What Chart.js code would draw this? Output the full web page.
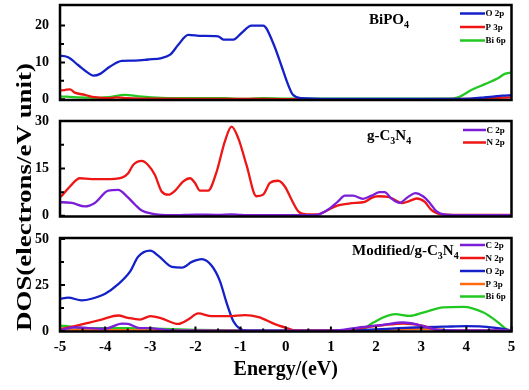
<!DOCTYPE html>
<html><head><meta charset="utf-8">
<script src="https://cdn.jsdelivr.net/npm/chart.js@4.4.0/dist/chart.umd.min.js"></script>
<style>
html,body{margin:0;padding:0;background:#fff;}
#wrap{position:relative;width:529px;height:390px;background:#fff;overflow:hidden;}
#wrap canvas{position:absolute;left:0;top:0;}
</style></head><body>
<div id="wrap">
<canvas id="c1" width="529" height="390"></canvas>
<canvas id="c2" width="529" height="390"></canvas>
<canvas id="c3" width="529" height="390"></canvas>
</div>
<script>
// ---------- DATA ----------
const energyTicks = [-5,-4,-3,-2,-1,0,1,2,3,4,5];

// Panel 1: BiPO4
const bipoO2pE = [-5,-4.96,-4.82,-4.6,-4.37,-4.26,-4.11,-3.89,-3.63,-3.34,-3.05,-2.75,-2.56,-2.38,-2.16,-1.86,-1.5,-1.38,-1.16,-0.98,-0.76,-0.5,-0.28,-0.09,0.02,0.16,0.35,1,2,3,4.1,4.4,4.63,4.8,5];
const bipoO2p  = [11.8,11.8,11.4,9.3,7.1,6.4,6.9,8.9,10.4,10.5,10.8,11.2,12.1,14.8,17.5,17.2,17.1,16.2,16.2,18.0,20.0,20.0,15.3,8.9,5.0,1.2,0.3,0.1,0.1,0.1,0.2,0.5,0.8,1.0,1.1];
const bipoP3pE = [-5,-4.9,-4.78,-4.67,-4.45,-4.23,-3.93,-3.75,-3.49,-3.0,-2.0,-1.0,0,1,2,3,4,4.5,5];
const bipoP3p  = [2.4,2.5,2.7,1.8,1.2,0.55,0.3,0.5,0.3,0.15,0.1,0.1,0.05,0.05,0.05,0.05,0.1,0.3,0.5];
const bipoBi6pE = [-5,-4.6,-4.2,-3.93,-3.56,-3.25,-2.75,-2,-1.33,-1.0,-0.5,0,1,2,3,3.67,3.82,4.11,4.41,4.7,4.85,5];
const bipoBi6p  = [0.8,0.5,0.4,0.6,1.2,0.8,0.4,0.3,0.3,0.1,0.3,0.2,0.2,0.2,0.2,0.2,0.5,2.5,4.1,5.7,6.9,7.3];
const bipoTicks = [0,10,20];
const bipoMinor = [5,15];

// Panel 2: g-C3N4
const gcnC2pE = [-5,-4.96,-4.74,-4.45,-4.23,-3.93,-3.71,-3.52,-3.34,-3.19,-2.97,-2.5,-2,-1.5,-1.2,-1,-0.5,0,0.5,0.72,0.94,1.16,1.31,1.49,1.71,1.9,2.08,2.19,2.34,2.52,2.71,2.87,3.04,3.19,3.34,3.53,4,5];
const gcnC2p  = [4.3,4.3,4.1,3.0,4.1,8.0,8.2,6.2,3.6,1.7,0.7,0.2,0.4,0.3,0.5,0.3,0.2,0.2,0.2,0.4,2.0,4.6,6.4,6.4,5.4,6.4,7.5,7.5,5.5,4.1,6.0,7.2,6.2,4.1,1.4,0.4,0.2,0.2];
const gcnN2pE = [-5,-4.96,-4.78,-4.56,-4.3,-4.0,-3.63,-3.49,-3.38,-3.19,-3.05,-2.9,-2.75,-2.6,-2.45,-2.27,-2.12,-2.01,-1.9,-1.72,-1.53,-1.35,-1.2,-1.05,-0.87,-0.65,-0.5,-0.35,-0.17,-0.02,0.13,0.28,0.46,0.72,0.87,1.16,1.46,1.75,1.9,2.05,2.27,2.42,2.57,2.72,2.9,3.08,3.23,3.45,4,5];
const gcnN2p  = [6.0,6.4,9.3,11.9,11.6,11.6,12.1,13.5,16.1,17.4,16.1,13.0,7.7,6.7,8.0,10.9,11.9,10.4,8.0,8.0,14.0,23.5,28.2,24.5,16.1,6.2,6.7,10.4,11.1,9.3,5.1,1.4,0.5,0.5,1.4,3.3,4.0,4.4,5.7,6.2,6.0,5.0,4.0,4.6,5.5,4.4,1.8,0.5,0.3,0.3];
const gcnTicks = [0,15,30];
const gcnMinor = [7.5,22.5];

// Panel 3: Modified/g-C3N4
const modC2pE = [-5,-4.67,-4.37,-4.0,-3.63,-3.49,-3.23,-3.0,-2.75,-2.4,-1,0,1.0,1.2,1.6,2.15,2.6,2.9,3.3,3.65,4,5];
const modC2p  = [0.3,2.0,1.5,1.2,4.0,3.8,1.5,1.5,0.8,0.3,0.2,0.2,0.2,0.4,1.8,3.3,4.6,3.6,0.9,0.4,0.3,0.3];
const modN2pE = [-5,-4.67,-4.37,-4.08,-3.71,-3.49,-3.23,-3.0,-2.75,-2.38,-2.16,-1.94,-1.64,-1.27,-0.9,-0.6,-0.24,0.06,0.2,0.6,1.0,1.2,1.6,2.15,2.6,3.05,3.35,3.6,4,5];
const modN2p  = [1.0,2.6,4.4,6.2,8.4,7.1,6.2,8.0,6.8,3.8,6.2,9.5,8.0,8.0,8.6,7.5,3.7,1.3,0.3,0.2,0.2,0.3,1.5,3.1,4.0,2.7,0.5,0.3,0.2,0.1];
const modO2pE = [-5,-4.82,-4.52,-4.3,-4.0,-3.71,-3.45,-3.27,-3.0,-2.82,-2.52,-2.3,-2.08,-1.86,-1.64,-1.46,-1.31,-1.16,-1.01,-0.85,0,1,1.5,2,2.5,3,3.5,4,4.3,4.7,5];
const modO2p  = [17.5,18.1,16.6,17.5,20.2,25.4,32.2,40.3,43.6,40.8,34.8,34.4,37.5,39.0,35.4,27.2,15.3,5.3,1.1,0.2,0.1,0.1,0.3,0.8,1.5,2.0,2.3,2.6,2.5,1.5,0.4];
const modP3pE = [-5,-4.5,-4,-3,-2,-1,0,1,2,2.5,3,3.3,3.6,4,5];
const modP3p  = [0.8,0.6,0.5,0.3,0.2,0.1,0.05,0.05,0.3,0.8,1.2,1.0,0.3,0.1,0.1];
const modBi6pE = [-5,-4.9,-4.6,-4,-3.5,-2.9,-2,-1,0,1,1.57,1.75,1.94,2.42,2.75,3.04,3.49,3.93,4.38,4.68,4.9,5];
const modBi6p  = [2.6,2.8,1.6,1.5,1.5,1.2,0.6,0.3,0.2,0.2,0.3,1.5,4.6,9.1,8.2,10.0,12.8,13.1,10.0,5.1,0.8,0.2];
const modTicks = [0,25,50];
const modMinor = [12.5,37.5];

// ---------- STYLE ----------
const COL = {O:'#1420c8', P:'#ee1515', Bi:'#22c822', C:'#7a1ed8', N:'#ee1515', Porange:'#ff6a10'};
const SERIF = '"Liberation Serif", "Times New Roman", serif';

function pts(E, V){ return E.map((e,i)=>({x:e, y:V[i]})); }
function ds(label, color, E, V){
  return {label, data: pts(E,V), borderColor: color, backgroundColor: color,
    borderWidth: 2.3, pointRadius: 0, cubicInterpolationMode: 'monotone', fill:false, clip: 4};
}

const deco = {
  id: 'deco',
  afterDraw(chart, args, o){
    const ctx = chart.ctx, a = chart.chartArea, ys = chart.scales.y, xs = chart.scales.x;
    ctx.save();
    ctx.strokeStyle = '#000'; ctx.fillStyle = '#000';
    ctx.lineWidth = 2;
    ctx.beginPath();
    o.yMajor.forEach(v=>{ const p = ys.getPixelForValue(v); ctx.moveTo(a.left, p); ctx.lineTo(a.left+5, p); });
    o.yMinor.forEach(v=>{ const p = ys.getPixelForValue(v); ctx.moveTo(a.left, p); ctx.lineTo(a.left+4, p); });
    if (o.xTicks){
      for (let v=-5; v<=5.001; v+=0.5){
        const p = xs.getPixelForValue(v);
        const len = Math.abs(v - Math.round(v)) < 1e-6 ? 5 : 3;
        ctx.moveTo(p, a.bottom); ctx.lineTo(p, a.bottom-len);
      }
    }
    ctx.stroke();
    ctx.lineWidth = 2.5;
    ctx.strokeRect(a.left, a.top, a.right-a.left, a.bottom-a.top);

    // panel title with subscripts
    let x = o.titleX;
    o.title.forEach(([t, sub])=>{
      ctx.font = 'bold ' + (sub ? 10 : 15) + 'px ' + SERIF;
      ctx.textBaseline = 'alphabetic'; ctx.textAlign = 'left';
      ctx.fillText(t, x, o.titleY + (sub ? 4 : 0));
      x += ctx.measureText(t).width;
    });

    // legend
    ctx.font = 'bold 9px ' + SERIF;
    ctx.textBaseline = 'middle';
    chart.data.datasets.forEach((d,i)=>{
      const y = o.legY[i];
      ctx.strokeStyle = d.borderColor; ctx.lineWidth = 2.5;
      ctx.beginPath(); ctx.moveTo(o.legX1, y); ctx.lineTo(o.legX2, y); ctx.stroke();
      ctx.fillStyle = '#000';
      ctx.fillText(d.label, o.legX2 + 0.5, y + 0.5);
    });

    if (o.yTitle){
      ctx.font = 'bold 22px ' + SERIF;
      const w = ctx.measureText(o.yTitle).width;
      ctx.translate(o.yTitleX, o.yTitleY);
      ctx.rotate(-Math.PI/2);
      ctx.scale(o.yTitleLen / w, 1);
      ctx.textAlign = 'center'; ctx.textBaseline = 'middle';
      ctx.fillStyle = '#000';
      ctx.fillText(o.yTitle, 0, 0);
    }
    ctx.restore();
  }
};

function makePanel(id, p){
  const yScale = {
    type: 'linear', min: p.yMin, max: p.yMax,
    grid: {display:false, drawTicks:false}, border: {display:false},
    afterBuildTicks: s => { s.ticks = p.yTicks.map(v=>({value:v})); },
    afterFit: s => { s.width = 60; s.paddingTop = 0; s.paddingBottom = 0; },
    ticks: {color:'#000', padding: 11, font:{family: SERIF, size: 14, weight:'bold'}}
  };
  const xScale = p.showX ? {
    type:'linear', min:-5, max:5,
    grid: {display:false, drawTicks:false}, border: {display:false},
    afterBuildTicks: s => { s.ticks = energyTicks.map(v=>({value:v})); },
    afterFit: s => { s.height = 390 - p.bottom; s.paddingLeft = 0; s.paddingRight = 0; },
    ticks: {color:'#000', padding: 7, maxRotation:0, autoSkip:false, font:{family: SERIF, size: 15, weight:'bold'}},
    title: {display:true, text:'Energy/(eV)', color:'#000', padding:{top:0, bottom:8}, font:{family: SERIF, size: 20, weight:'bold'}}
  } : {type:'linear', min:-5, max:5, display:false};
  return new Chart(document.getElementById(id), {
    type: 'line',
    data: {datasets: p.datasets},
    options: {
      responsive:false, animation:false, devicePixelRatio:1,
      layout: {padding: {top: p.top, bottom: p.showX ? 0 : 390 - p.bottom, left: 0, right: 529 - 511.5}},
      scales: {x: xScale, y: yScale},
      plugins: {legend:{display:false}, tooltip:{enabled:false}, deco: p.deco}
    },
    plugins: [deco]
  });
}

makePanel('c1', {
  top: 5, bottom: 100, yMin: -0.2, yMax: 25.6, yTicks: bipoTicks, showX:false,
  datasets: [ds('O 2p', COL.O, bipoO2pE, bipoO2p), ds('P 3p', COL.P, bipoP3pE, bipoP3p), ds('Bi 6p', COL.Bi, bipoBi6pE, bipoBi6p)],
  deco: {yMajor: bipoTicks, yMinor: bipoMinor, xTicks:false,
    title: [['BiPO',false],['4',true]], titleX: 369, titleY: 23.5,
    legY: [13.5, 27, 40.5], legX1: 460, legX2: 485}
});
makePanel('c2', {
  top: 121, bottom: 216.5, yMin: -0.2, yMax: 30, yTicks: gcnTicks, showX:false,
  datasets: [ds('C 2p', COL.C, gcnC2pE, gcnC2p), ds('N 2p', COL.N, gcnN2pE, gcnN2p)],
  deco: {yMajor: gcnTicks, yMinor: gcnMinor, xTicks:false,
    title: [['g-C',false],['3',true],['N',false],['4',true]], titleX: 367, titleY: 140,
    legY: [130, 142.5], legX1: 463, legX2: 486}
});
makePanel('c3', {
  top: 238, bottom: 331.5, yMin: -0.3, yMax: 50.5, yTicks: modTicks, showX:true,
  datasets: [ds('C 2p', COL.C, modC2pE, modC2p), ds('N 2p', COL.N, modN2pE, modN2p), ds('O 2p', COL.O, modO2pE, modO2p),
             ds('P 3p', COL.Porange, modP3pE, modP3p), ds('Bi 6p', COL.Bi, modBi6pE, modBi6p)],
  deco: {yMajor: modTicks, yMinor: modMinor, xTicks:true,
    title: [['Modified/g-C',false],['3',true],['N',false],['4',true]], titleX: 352, titleY: 255,
    legY: [245, 258, 271, 284, 296.5], legX1: 460, legX2: 485,
    yTitle: 'DOS(electrons/eV unit)', yTitleX: 25, yTitleY: 197, yTitleLen: 268}
});
</script>
</body></html>
